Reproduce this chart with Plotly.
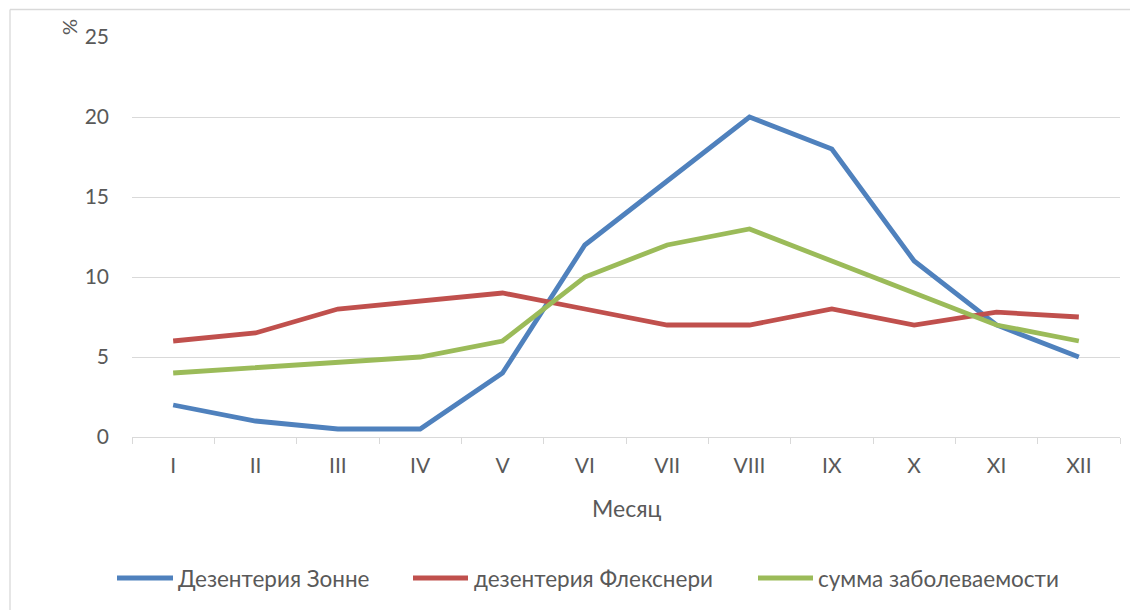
import plotly.graph_objects as go

months = ["I", "II", "III", "IV", "V", "VI", "VII", "VIII", "IX", "X", "XI", "XII"]
sonne = [2, 1, 0.5, 0.5, 4, 12, 16, 20, 18, 11, 7, 5]
flexner = [6, 6.5, 8, 8.5, 9, 8, 7, 7, 8, 7, 7.8, 7.5]
total = [4, 4.35, 4.65, 5, 6, 10, 12, 13, 11, 9, 7, 6]

names = ["Дезентерия Зонне", "дезентерия Флекснери", "сумма заболеваемости"]
colors = ["#4f81bd", "#c0504d", "#9bbb59"]

# page has an 8px body margin: work in reference-pixel coordinates and shift
OFF = 8
W, H = 1138 - OFF, 610 - OFF
L, R, T, B = 132 - OFF, 1120 - OFF, 37 - OFF, 437 - OFF

def px(x):  # reference pixel x -> paper
    return (x - OFF - L) / (R - L)

def py(y):  # reference pixel y -> paper
    return (B - (y - OFF)) / (B - T)

fig = go.Figure()
for name, ys, c in zip(names, [sonne, flexner, total], colors):
    fig.add_trace(go.Scatter(x=months, y=ys, mode="lines", name=name, showlegend=False,
                             line=dict(color=c, width=4.8)))

font = "Lato, 'Open Sans', sans-serif"
grey = "#595959"
line_grey = "#d9d9d9"

fig.update_layout(
    width=W, height=H,
    margin=dict(l=L, r=W - R, t=T, b=H - B),
    paper_bgcolor="white", plot_bgcolor="white",
    font=dict(family=font, color=grey, size=22),
    xaxis=dict(type="category", range=[-0.5, 11.5], tickson="boundaries",
               showgrid=False, showline=True, linecolor=line_grey, linewidth=1.3,
               ticks="outside", ticklen=6, tickcolor=line_grey, tickwidth=1.3,
               ticklabelstandoff=10,
               tickfont=dict(size=21, color=grey, family=font),
               zeroline=False),
    yaxis=dict(range=[0, 25], dtick=5, showgrid=True, gridcolor=line_grey, gridwidth=1.3,
               zeroline=False, showline=False, ticks="", ticklabelstandoff=22,
               tickfont=dict(size=21, color=grey, family=font)),
    showlegend=False,
)

# axis titles
fig.add_annotation(text="%", xref="paper", yref="paper", x=px(69), y=py(27),
                   showarrow=False, textangle=-90, font=dict(size=20, color=grey, family=font),
                   xanchor="center", yanchor="middle")
fig.add_annotation(text="Месяц", xref="paper", yref="paper", x=px(626), y=py(508),
                   showarrow=False, font=dict(size=23, color=grey, family=font),
                   xanchor="center", yanchor="middle")

# legend drawn manually (line samples + labels)
leg_y = 578
leg_items = [(117, 173, 176), (413, 468, 472), (758, 813, 816)]
for (x0, x1, tx), name, c in zip(leg_items, names, colors):
    fig.add_shape(type="line", xref="paper", yref="paper", x0=px(x0), x1=px(x1),
                  y0=py(leg_y), y1=py(leg_y), line=dict(color=c, width=4.8))
    fig.add_annotation(text=name, xref="paper", yref="paper", x=px(tx), y=py(leg_y),
                       showarrow=False, xanchor="left", yanchor="middle",
                       font=dict(size=22.5, color=grey, family=font))

# chart border (document frame)
fig.add_shape(type="line", xref="paper", yref="paper", x0=px(10), x1=px(1150), y0=py(9.5), y1=py(9.5),
              line=dict(color=line_grey, width=1.3))
fig.add_shape(type="line", xref="paper", yref="paper", x0=px(10), x1=px(10), y0=py(9.5), y1=py(620),
              line=dict(color=line_grey, width=1.3))

fig.write_html("out.html")
